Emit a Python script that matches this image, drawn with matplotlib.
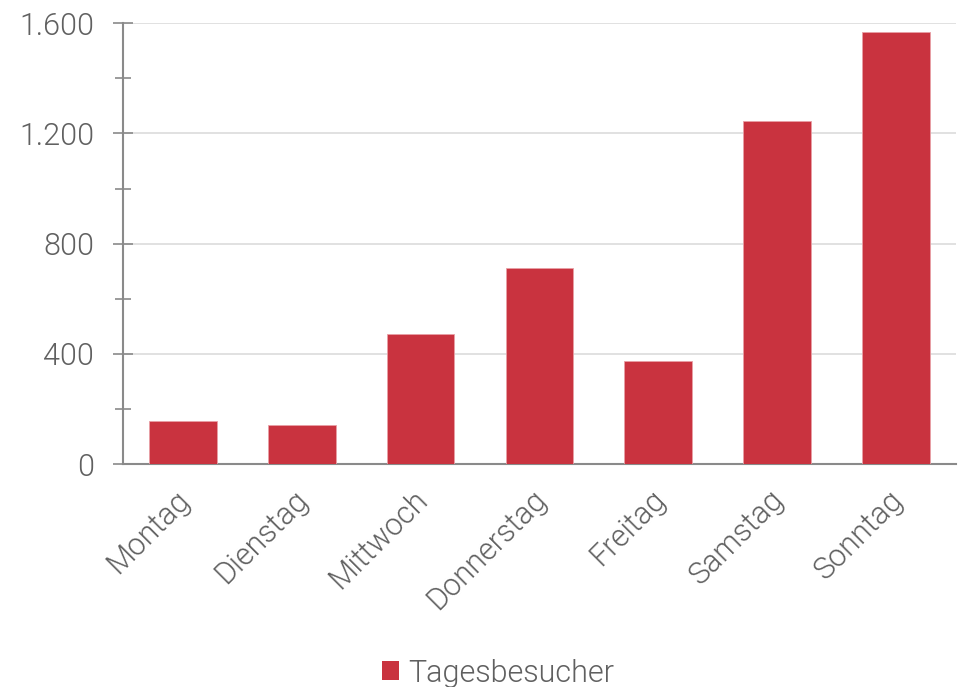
import matplotlib
matplotlib.use("Agg")
import matplotlib.pyplot as plt
from matplotlib.ticker import FuncFormatter, MultipleLocator
from matplotlib.patches import Patch
import matplotlib.transforms as mtrans

categories = ["Montag", "Dienstag", "Mittwoch", "Donnerstag", "Freitag", "Samstag", "Sonntag"]
values = [155, 140, 471, 710, 375, 1244, 1567]
series_name = "Tagesbesucher"

bar_color = "#C9333F"
text_color = "#606060"
axis_color = "#8a8a8a"
grid_color = "#dcdcdc"

plt.rcParams['font.family'] = ['Roboto', 'DejaVu Sans']
plt.rcParams['font.weight'] = 300
FS = 22

fig = plt.figure(figsize=(9.63, 6.87), dpi=100)
ax = fig.add_axes([123.3/963, 1-464/687, (955.6-123.3)/963, (464-23.3)/687])

x = list(range(len(categories)))
ax.bar(x, values, width=0.57, color=bar_color, edgecolor="#e8a0a6", linewidth=0.6, zorder=3)

ax.set_xlim(-0.5, len(categories)-0.5)
ax.set_ylim(0, 1600)
ax.yaxis.set_major_locator(MultipleLocator(400))
ax.yaxis.set_minor_locator(MultipleLocator(200))
ax.yaxis.set_major_formatter(FuncFormatter(lambda v, p: f"{int(v):,}".replace(",", ".")))
ax.grid(axis='y', which='major', color=grid_color, linewidth=1.2, zorder=0)

for s in ["top", "right"]:
    ax.spines[s].set_visible(False)
for s in ["left", "bottom"]:
    ax.spines[s].set_color(axis_color)
    ax.spines[s].set_linewidth(1.5)

ax.tick_params(axis='y', which='major', direction='inout', length=14, width=1.2, color=axis_color,
               labelsize=FS, labelcolor=text_color, pad=14)
ax.tick_params(axis='y', which='minor', direction='inout', length=12, width=1.2, color=axis_color)
ax.tick_params(axis='x', length=0, labelsize=FS, labelcolor=text_color, pad=15)
ax.set_xticks(x)
ax.set_xticklabels(categories, rotation=45, ha='right', va='top', rotation_mode='anchor')
for lbl in ax.get_xticklabels():
    lbl.set_transform(lbl.get_transform() + mtrans.ScaledTranslation(-8/100, 0, fig.dpi_scale_trans))

handles = [Patch(facecolor=bar_color, edgecolor='none', label=series_name)]
leg = fig.legend(handles=handles, loc='center', bbox_to_anchor=(498/963, 1-673/687), frameon=False,
                 fontsize=FS, handlelength=0.56, handleheight=0.56, handletextpad=0.3, labelcolor=text_color)

fig.savefig("out.png", dpi=100)
